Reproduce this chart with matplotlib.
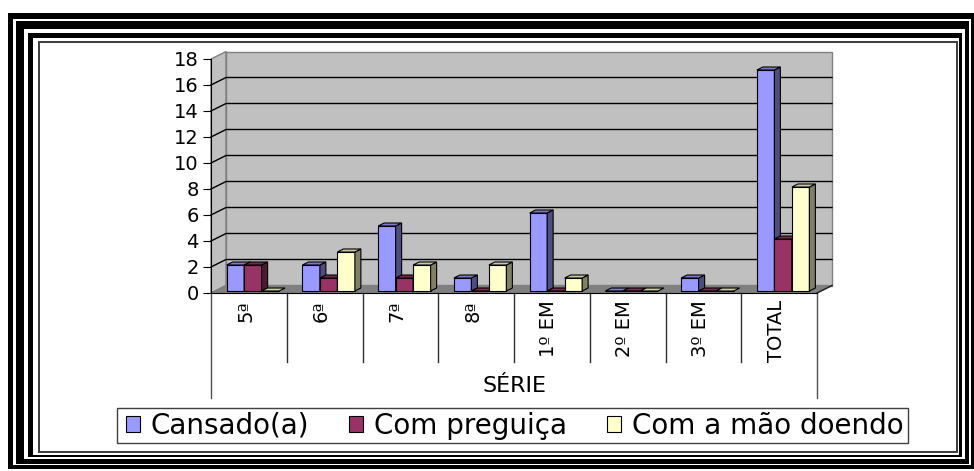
"""
Gráfico de colunas 3D (estilo Excel antigo): motivos por série, com moldura decorativa.
"""

import numpy as np
import matplotlib
matplotlib.use('Agg')
from matplotlib import pyplot as plt
from matplotlib.patches import Polygon, Rectangle, Patch

# dados
categorias = ['5ª', '6ª', '7ª', '8ª', '1º EM', '2º EM', '3º EM', 'TOTAL']
cansado = [2, 2, 5, 1, 6, 0, 1, 17]
preguica = [2, 1, 1, 0, 0, 0, 0, 4]
mao_doendo = [0, 3, 2, 2, 1, 0, 0, 8]
nomes_series = ['Cansado(a)', 'Com preguiça', 'Com a mão doendo']
y_ticks = list(range(0, 19, 2))

cores_frente = ['#9999FF', '#993366', '#FFFFCC']
cores_lado = ['#4D4D80', '#4D1A33', '#808066']
cores_topo = ['#7A7ACC', '#7A2952', '#CCCCA3']

W, H = 974, 471
plt.rcParams['font.family'] = ['DejaVu Sans']


def fig_rect(fig, x0, y0, x1, y1, color, edge='none', lw=0):
    # retângulo em pixels (origem no canto superior esquerdo)
    fig.add_artist(Rectangle((x0 / W, 1 - y1 / H), (x1 - x0) / W, (y1 - y0) / H,
                             transform=fig.transFigure, facecolor=color,
                             edgecolor=edge, lw=lw, zorder=0))


def moldura(fig):
    # (esq_ext, esq_int, topo_ext, topo_int, dir_int, dir_ext, base_int, base_ext)
    faixas = [
        (8, 13.3, 13.3, 18.7, 970.7, 975, 465, 469.3, 'black'),
        (16, 24, 20.7, 28.7, 964.7, 969, 459.3, 463.7, 'black'),
        (28, 33.3, 32.7, 38, 959.3, 962.3, 455, 457, 'black'),
        (38, 39.6, 41.3, 42.8, 956, 957.5, 451, 452.5, '#404040'),
    ]
    for l0, l1, t0, t1, r0, r1, b0, b1, c in faixas:
        fig_rect(fig, l0, t0, r1, t1, c)
        fig_rect(fig, l0, b0, r1, b1, c)
        fig_rect(fig, l0, t0, l1, b1, c)
        fig_rect(fig, r0, t0, r1, b1, c)


def main():
    fig = plt.figure(figsize=(W / 100, H / 100), dpi=100)
    fig.patch.set_facecolor('white')
    moldura(fig)

    ax = fig.add_axes([211 / W, 1 - 293 / H, 606 / W, 234 / H])
    n = len(categorias)
    ax.set_xlim(0, n)
    ax.set_ylim(0, 18)
    ax.patch.set_visible(False)

    ppx = 606 / n   # pixels por unidade em x
    ppy = 234 / 18  # pixels por unidade em y
    wx, wy = 15 / ppx, 7.5 / ppy   # profundidade das paredes
    ox, oy = 4 / ppx, 2 / ppy      # recuo da face frontal das colunas
    dx, dy = 6 / ppx, 3 / ppy      # profundidade das colunas
    bw = 17.5 / ppx

    # paredes e piso
    ax.add_patch(Polygon([(0, 0), (wx, wy), (wx, 18 + wy), (0, 18)], closed=True,
                         facecolor='#C0C0C0', edgecolor='#808080', lw=1, clip_on=False, zorder=1))
    ax.add_patch(Rectangle((wx, wy), n, 18, facecolor='#C0C0C0', edgecolor='#808080',
                           lw=1, clip_on=False, zorder=1))
    ax.add_patch(Polygon([(0, 0), (n, 0), (n + wx, wy), (wx, wy)], closed=True,
                         facecolor='#808080', edgecolor='#808080', lw=1, clip_on=False, zorder=1.5))
    for t in y_ticks[1:-1]:
        ax.plot([0, wx, n + wx], [t, t + wy, t + wy], color='black', lw=1,
                clip_on=False, zorder=2)
    ax.plot([n, n + wx], [0, wy], color='#202020', lw=1, clip_on=False, zorder=2)

    # colunas
    valores = [cansado, preguica, mao_doendo]
    xs = np.arange(n)
    inicio = xs + (1 - 3 * bw) / 2 + ox
    for k, vals in enumerate(valores):
        x0 = inicio + k * bw
        ax.bar(x0, vals, width=bw, bottom=oy, align='edge', color=cores_frente[k],
               edgecolor='black', lw=0.8, clip_on=False, zorder=3)
        for xa, v in zip(x0, vals):
            xb = xa + bw
            top = oy + v
            if v > 0:
                ax.add_patch(Polygon([(xb, oy), (xb + dx, oy + dy), (xb + dx, top + dy), (xb, top)],
                                     closed=True, facecolor=cores_lado[k], edgecolor='black',
                                     lw=0.8, clip_on=False, zorder=3))
            ax.add_patch(Polygon([(xa, top), (xb, top), (xb + dx, top + dy), (xa + dx, top + dy)],
                                 closed=True, facecolor=cores_topo[k], edgecolor='black',
                                 lw=0.8, clip_on=False, zorder=3))

    # eixos
    for lado in ['top', 'right']:
        ax.spines[lado].set_visible(False)
    ax.spines['left'].set_color('black')
    ax.spines['bottom'].set_color('black')
    ax.spines['left'].set_zorder(4)
    ax.spines['bottom'].set_zorder(4)
    ax.set_yticks(y_ticks)
    ax.tick_params(axis='y', direction='out', length=5.8, width=0.8, pad=3,
                   labelsize=14, colors='black')
    ax.set_xticks(xs + 0.5 - 3 / ppx)
    ax.set_xticklabels(categorias, rotation=90, va='top', ha='center')
    ax.tick_params(axis='x', length=0, pad=5, labelsize=14)

    # caixa das categorias
    for b in range(1, n):
        ax.plot([b, b], [0, -69 / ppy], color='#303030', lw=1, clip_on=False, zorder=2)
    for b in [0, n]:
        ax.plot([b, b], [0, -105 / ppy], color='#505050', lw=1, clip_on=False, zorder=2)

    fig.text(514 / W, 1 - 386 / H, 'SÉRIE', ha='center', va='center', fontsize=16)

    # legenda: caixa desenhada à parte para controlar as margens
    fig_rect(fig, 117, 408, 908, 443, 'white', edge='#404040', lw=1)
    handles = [Patch(facecolor=c, edgecolor='black', lw=0.8) for c in cores_frente]
    fig.legend(handles, nomes_series, loc='center',
               bbox_to_anchor=(126 / W, 1 - 443 / H, 778 / W, 35 / H), mode='expand',
               ncol=3, frameon=False, fontsize=20, handlelength=0.5, handleheight=0.5,
               handletextpad=0.4, borderaxespad=0, borderpad=0)

    fig.savefig('out.png', dpi=100, facecolor='white')


if __name__ == '__main__':
    main()
